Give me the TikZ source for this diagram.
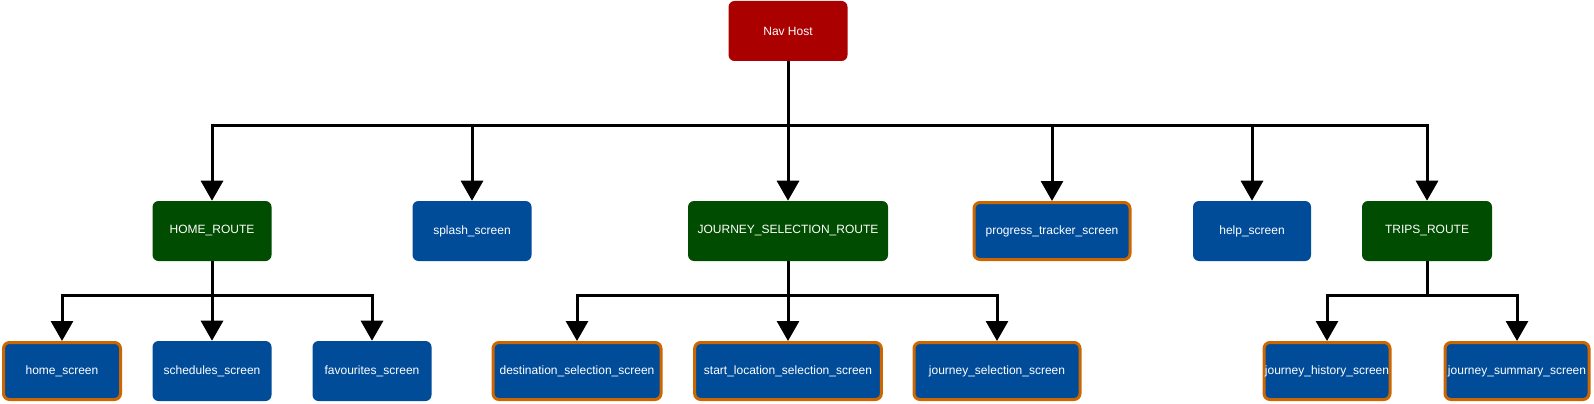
\documentclass[tikz,border=0pt]{standalone}
\usepackage{fontspec}
\setmainfont{Liberation Sans}
\usetikzlibrary{arrows.meta}
\definecolor{navred}{HTML}{AA0000}
\definecolor{routegreen}{HTML}{004C00}
\definecolor{screenblue}{HTML}{004C99}
\definecolor{edgeorange}{HTML}{CC6600}
\tikzset{
  box/.style={rectangle, rounded corners=4.5pt, inner sep=0pt, minimum height=45pt,
    text=white, font=\fontsize{9}{10.8}\selectfont, align=center},
  hostbox/.style={box, fill=navred},
  routebox/.style={box, fill=routegreen},
  screenbox/.style={box, fill=screenblue},
  markedbox/.style={box, fill=screenblue, draw=edgeorange, line width=2.25pt, minimum height=42.75pt},
  arr/.style={draw=black, line width=2.25pt, -{Triangle[width=16.5pt,length=15pt]}},
}
\begin{document}
\begin{tikzpicture}[x=0.75pt, y=-0.75pt]
\useasboundingbox (0,0) rectangle (1594,403);
% top
\node[hostbox, minimum width=89.25pt] (nav) at (788,31) {Nav Host};
% middle row
\node[routebox, minimum width=89.25pt] (homeroute) at (212,231) {HOME\_ROUTE};
\node[screenbox, minimum width=89.25pt] (splash) at (472,231) {splash\_screen};
\node[routebox, minimum width=150pt] (jsroute) at (788,231) {JOURNEY\_SELECTION\_ROUTE};
\node[markedbox, minimum width=117pt] (progress) at (1052,231) {progress\_tracker\_screen};
\node[screenbox, minimum width=88.5pt] (help) at (1252,231) {help\_screen};
\node[routebox, minimum width=97.5pt] (tripsroute) at (1427,231) {TRIPS\_ROUTE};
% bottom row
\node[markedbox, minimum width=87.75pt] (home) at (62,371) {home\_screen};
\node[screenbox, minimum width=89.25pt] (schedules) at (212,371) {schedules\_screen};
\node[screenbox, minimum width=89.25pt] (favourites) at (372,371) {favourites\_screen};
\node[markedbox, minimum width=126pt] (destination) at (577,371) {destination\_selection\_screen};
\node[markedbox, minimum width=140pt] (startloc) at (788,371) {start\_location\_selection\_screen};
\node[markedbox, minimum width=124.5pt] (jsscreen) at (997,371) {journey\_selection\_screen};
\node[markedbox, minimum width=94.5pt] (history) at (1327,371) {journey\_history\_screen};
\node[markedbox, minimum width=108pt] (summary) at (1517,371) {journey\_summary\_screen};
% bus coordinates
\coordinate (bus) at (788,125);
\coordinate (homebus) at (212,295);
\coordinate (jsbus) at (788,295);
\coordinate (tripsbus) at (1427,295);
% top-level edges
\draw[arr] (nav.south) |- (bus) -| (homeroute.north);
\draw[arr] (nav.south) |- (bus) -| (splash.north);
\draw[arr] (nav.south) -- (jsroute.north);
\draw[arr] (nav.south) |- (bus) -| (progress.north);
\draw[arr] (nav.south) |- (bus) -| (help.north);
\draw[arr] (nav.south) |- (bus) -| (tripsroute.north);
% home route edges
\draw[arr] (homeroute.south) |- (homebus) -| (home.north);
\draw[arr] (homeroute.south) -- (schedules.north);
\draw[arr] (homeroute.south) |- (homebus) -| (favourites.north);
% journey selection edges
\draw[arr] (jsroute.south) |- (jsbus) -| (destination.north);
\draw[arr] (jsroute.south) -- (startloc.north);
\draw[arr] (jsroute.south) |- (jsbus) -| (jsscreen.north);
% trips edges
\draw[arr] (tripsroute.south) |- (tripsbus) -| (history.north);
\draw[arr] (tripsroute.south) |- (tripsbus) -| (summary.north);
\end{tikzpicture}
\end{document}
